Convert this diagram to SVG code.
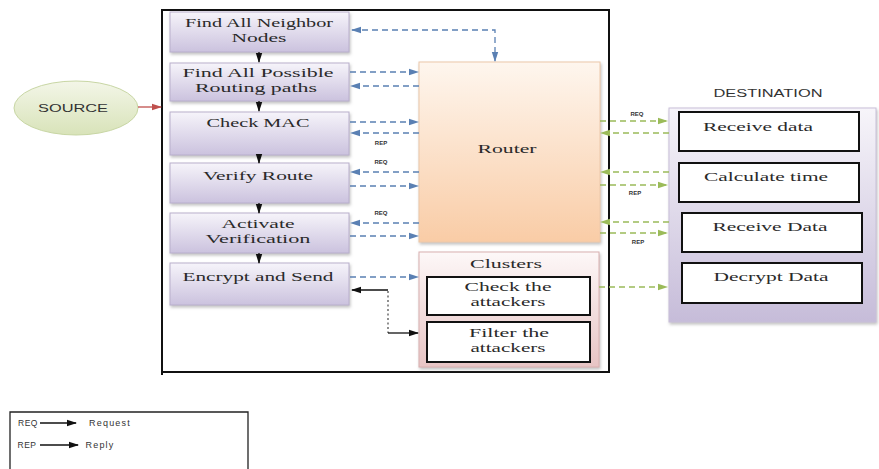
<svg xmlns="http://www.w3.org/2000/svg" width="879" height="469" viewBox="0 0 879 469">
<defs>
<linearGradient id="gPurple" x1="0" y1="0" x2="0" y2="1"><stop offset="0" stop-color="#f6f4fa"/><stop offset="1" stop-color="#cbc2de"/></linearGradient>
<linearGradient id="gDest" x1="0" y1="0" x2="0" y2="1"><stop offset="0" stop-color="#f7f5fa"/><stop offset="1" stop-color="#c6bcd9"/></linearGradient>
<linearGradient id="gRouter" x1="0" y1="0" x2="0" y2="1"><stop offset="0" stop-color="#fef6ee"/><stop offset="1" stop-color="#f9cca6"/></linearGradient>
<linearGradient id="gClus" x1="0" y1="0" x2="0" y2="1"><stop offset="0" stop-color="#fdf8f8"/><stop offset="1" stop-color="#e7c4c4"/></linearGradient>
<linearGradient id="gSrc" x1="0" y1="0" x2="0" y2="1"><stop offset="0" stop-color="#f3f6e8"/><stop offset="1" stop-color="#d8e3b9"/></linearGradient>
<filter id="sh" x="-10%" y="-10%" width="125%" height="130%"><feGaussianBlur in="SourceAlpha" stdDeviation="1.5"/><feOffset dx="1" dy="2" result="b"/><feFlood flood-color="#999" flood-opacity="0.6"/><feComposite in2="b" operator="in"/><feMerge><feMergeNode/><feMergeNode in="SourceGraphic"/></feMerge></filter>
<marker id="aB" markerWidth="10" markerHeight="8" refX="9" refY="4" orient="auto" markerUnits="userSpaceOnUse"><path d="M0,0.8 L10,4 L0,7.2 Z" fill="#5a80b3"/></marker>
<marker id="aBs" markerWidth="10" markerHeight="8" refX="1" refY="4" orient="auto" markerUnits="userSpaceOnUse"><path d="M10,0.8 L0,4 L10,7.2 Z" fill="#5a80b3"/></marker>
<marker id="aG" markerWidth="10" markerHeight="8" refX="9" refY="4" orient="auto" markerUnits="userSpaceOnUse"><path d="M0,0.8 L10,4 L0,7.2 Z" fill="#9bbb59"/></marker>
<marker id="aK" markerWidth="10" markerHeight="8" refX="9" refY="4" orient="auto" markerUnits="userSpaceOnUse"><path d="M0,0.8 L10,4 L0,7.2 Z" fill="#111"/></marker>
<marker id="aR" markerWidth="10" markerHeight="8" refX="9" refY="4" orient="auto" markerUnits="userSpaceOnUse"><path d="M0,0.8 L10,4 L0,7.2 Z" fill="#c0504d"/></marker>
</defs>
<style>
.box{fill:url(#gPurple);stroke:#b9afcc;stroke-width:1;filter:url(#sh)}
.in{fill:#fff;stroke:#111;stroke-width:2}
.t{font-family:"Liberation Serif","Times New Roman",serif;font-size:13.5px;fill:#2a2a2a;text-anchor:middle}
.s{font-family:"Liberation Sans",Arial,sans-serif;fill:#333;text-anchor:middle}
.lbl{font-family:"Liberation Sans",Arial,sans-serif;font-size:6px;fill:#333;text-anchor:middle;font-weight:bold}
.db{fill:none;stroke:#5a80b3;stroke-width:1.3;stroke-dasharray:6,4}
.dg{fill:none;stroke:#9bbb59;stroke-width:1.3;stroke-dasharray:6,4}
.k{fill:none;stroke:#111;stroke-width:1.3}
</style>
<rect x="0" y="0" width="879" height="469" fill="#fff"/>

<g id="container"><path d="M162,375 V10 H609 V372 H162" fill="none" stroke="#111" stroke-width="2"/></g>

<g id="source"><ellipse cx="76" cy="108" rx="62" ry="27" fill="url(#gSrc)" stroke="#c8d6a4" stroke-width="1"/><text class="s" x="73" y="112" font-size="11" fill="#333" textLength="70" lengthAdjust="spacingAndGlyphs">SOURCE</text></g>

<g id="n1"><rect class="box" x="170" y="12" width="179" height="40"/><text class="t" x="259" y="27" textLength="148" lengthAdjust="spacingAndGlyphs">Find All Neighbor</text><text class="t" x="259" y="42" textLength="55" lengthAdjust="spacingAndGlyphs">Nodes</text></g>
<g id="n2"><rect class="box" x="170" y="63" width="179" height="38"/><text class="t" x="258" y="77" textLength="151" lengthAdjust="spacingAndGlyphs">Find All Possible</text><text class="t" x="256" y="92" textLength="122" lengthAdjust="spacingAndGlyphs">Routing paths</text></g>
<g id="n3"><rect class="box" x="170" y="112" width="179" height="43"/><text class="t" x="258" y="127" textLength="103" lengthAdjust="spacingAndGlyphs">Check MAC</text></g>
<g id="n4"><rect class="box" x="170" y="163" width="179" height="40"/><text class="t" x="258" y="180" textLength="110" lengthAdjust="spacingAndGlyphs">Verify Route</text></g>
<g id="n5"><rect class="box" x="170" y="213" width="179" height="40"/><text class="t" x="258" y="228" textLength="73" lengthAdjust="spacingAndGlyphs">Activate</text><text class="t" x="258" y="243" textLength="105" lengthAdjust="spacingAndGlyphs">Verification</text></g>
<g id="n6"><rect class="box" x="170" y="263" width="179" height="42"/><text class="t" x="258" y="281" textLength="151" lengthAdjust="spacingAndGlyphs">Encrypt and Send</text></g>

<g id="router"><rect x="419" y="62" width="181" height="180" fill="url(#gRouter)" stroke="#ecc8aa" stroke-width="1" filter="url(#sh)"/><text class="t" x="507" y="153" textLength="59" lengthAdjust="spacingAndGlyphs">Router</text></g>

<g id="clusters"><rect x="419" y="252" width="180" height="115" fill="url(#gClus)" stroke="#d9b0b0" stroke-width="1" filter="url(#sh)"/><text class="t" x="506" y="268" textLength="72" lengthAdjust="spacingAndGlyphs">Clusters</text>
<rect class="in" x="427" y="277" width="163" height="38"/><text class="t" x="508" y="291" textLength="87" lengthAdjust="spacingAndGlyphs">Check the</text><text class="t" x="508" y="306" textLength="75" lengthAdjust="spacingAndGlyphs">attackers</text>
<rect class="in" x="427" y="322" width="163" height="40"/><text class="t" x="509" y="337" textLength="80" lengthAdjust="spacingAndGlyphs">Filter the</text><text class="t" x="508" y="352" textLength="75" lengthAdjust="spacingAndGlyphs">attackers</text></g>

<g id="destination"><text class="s" x="768" y="97" font-size="10" textLength="109" lengthAdjust="spacingAndGlyphs">DESTINATION</text>
<rect x="669" y="108" width="207" height="214" fill="url(#gDest)" stroke="#c9c0d9" stroke-width="1" filter="url(#sh)"/>
<rect class="in" x="679" y="112" width="180" height="39"/><text class="t" x="758" y="131" textLength="110" lengthAdjust="spacingAndGlyphs">Receive data</text>
<rect class="in" x="679" y="163" width="180" height="39"/><text class="t" x="766" y="181" textLength="124" lengthAdjust="spacingAndGlyphs">Calculate time</text>
<rect class="in" x="682" y="213" width="180" height="39"/><text class="t" x="770" y="231" textLength="115" lengthAdjust="spacingAndGlyphs">Receive Data</text>
<rect class="in" x="682" y="263" width="180" height="40"/><text class="t" x="771" y="281" textLength="115" lengthAdjust="spacingAndGlyphs">Decrypt Data</text></g>

<g id="connectors">
<line x1="138" y1="107" x2="161" y2="107" stroke="#c0504d" stroke-width="1.3" marker-end="url(#aR)"/>
<line class="k" x1="259" y1="52" x2="259" y2="62" marker-end="url(#aK)"/>
<line class="k" x1="259" y1="101" x2="259" y2="111" marker-end="url(#aK)"/>
<line class="k" x1="259" y1="155" x2="259" y2="163" marker-end="url(#aK)"/>
<line class="k" x1="259" y1="203" x2="259" y2="213" marker-end="url(#aK)"/>
<line class="k" x1="259" y1="253" x2="259" y2="263" marker-end="url(#aK)"/>
<path class="db" d="M352,30 H495 V61" marker-start="url(#aBs)" marker-end="url(#aB)"/>
<line class="db" x1="350" y1="72" x2="418" y2="72" marker-end="url(#aB)"/>
<line class="db" x1="419" y1="86" x2="351" y2="86" marker-end="url(#aB)"/>
<line class="db" x1="350" y1="122" x2="418" y2="122" marker-end="url(#aB)"/>
<line class="db" x1="419" y1="133" x2="351" y2="133" marker-end="url(#aB)"/>
<line class="db" x1="419" y1="172" x2="351" y2="172" marker-end="url(#aB)"/>
<line class="db" x1="350" y1="186" x2="418" y2="186" marker-end="url(#aB)"/>
<line class="db" x1="419" y1="223" x2="351" y2="223" marker-end="url(#aB)"/>
<line class="db" x1="350" y1="236" x2="418" y2="236" marker-end="url(#aB)"/>
<line class="db" x1="350" y1="277" x2="418" y2="277" marker-end="url(#aB)"/>
<path class="k" d="M388,290 H352" marker-end="url(#aK)"/>
<line x1="388" y1="291" x2="388" y2="333" stroke="#555" stroke-width="1.3" stroke-dasharray="2,2.5"/>
<path class="k" d="M388,333 H418" marker-end="url(#aK)"/>
<line class="dg" x1="600" y1="121" x2="667" y2="121" marker-end="url(#aG)"/>
<line class="dg" x1="669" y1="133" x2="601" y2="133" marker-end="url(#aG)"/>
<line class="dg" x1="669" y1="172" x2="601" y2="172" marker-end="url(#aG)"/>
<line class="dg" x1="600" y1="185" x2="667" y2="185" marker-end="url(#aG)"/>
<line class="dg" x1="669" y1="222" x2="601" y2="222" marker-end="url(#aG)"/>
<line class="dg" x1="600" y1="233" x2="667" y2="233" marker-end="url(#aG)"/>
<line class="dg" x1="599" y1="287" x2="667" y2="287" marker-end="url(#aG)"/>
<text class="lbl" x="381" y="145">REP</text>
<text class="lbl" x="381" y="164">REQ</text>
<text class="lbl" x="381" y="215">REQ</text>
<text class="lbl" x="637" y="116">REQ</text>
<text class="lbl" x="635" y="195">REP</text>
<text class="lbl" x="638" y="244">REP</text>
</g>

<g id="legend"><path d="M10,470 V412 H248 V470" fill="none" stroke="#222" stroke-width="1.3"/>
<text class="s" x="28" y="426" font-size="8.5" letter-spacing="0.5">REQ</text>
<line class="k" x1="40" y1="423" x2="76" y2="423" marker-end="url(#aK)"/>
<text class="s" x="110" y="426" font-size="9" letter-spacing="1.2">Request</text>
<text class="s" x="27" y="448" font-size="8.5" letter-spacing="0.5">REP</text>
<line class="k" x1="40" y1="445" x2="78" y2="445" marker-end="url(#aK)"/>
<text class="s" x="100" y="448" font-size="9" letter-spacing="1.2">Reply</text></g>
</svg>
